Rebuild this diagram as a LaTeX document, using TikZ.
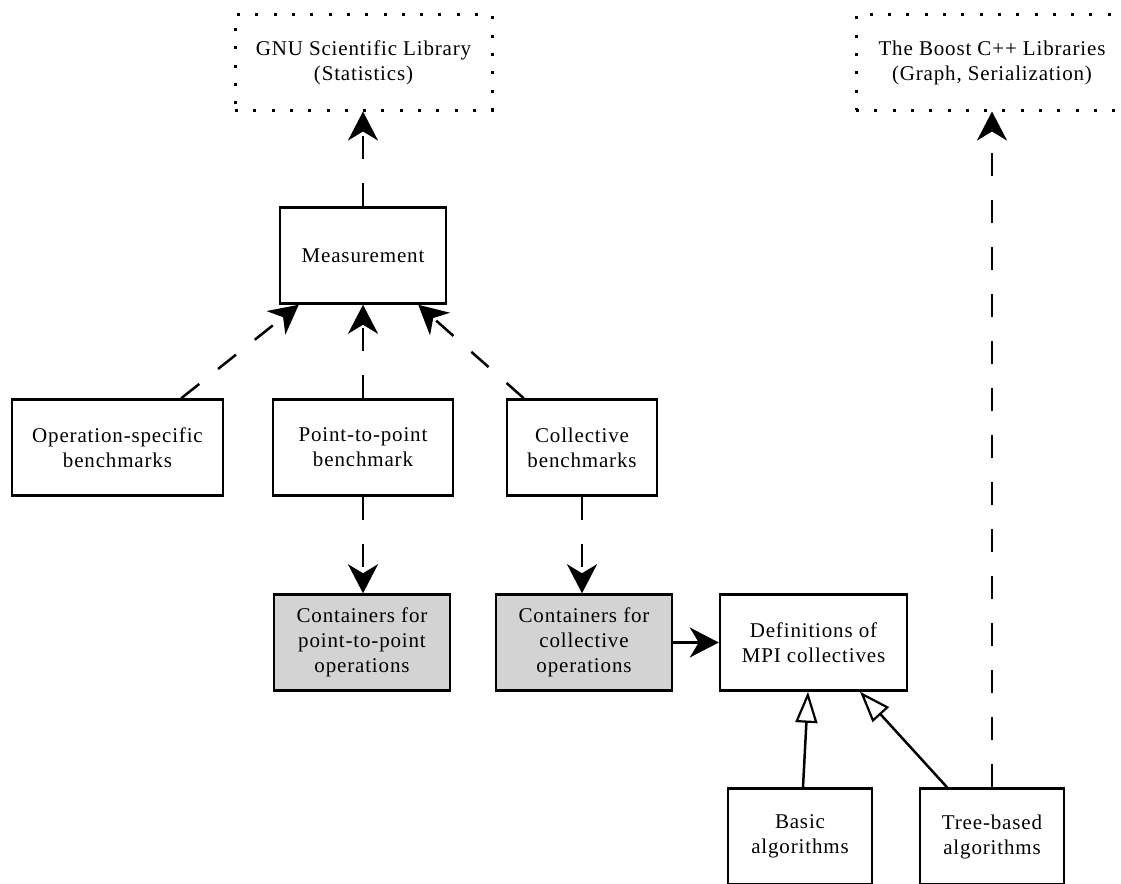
\documentclass[tikz,border=0pt]{standalone}
\usepackage{fontspec}
\setmainfont{Liberation Serif}[LetterSpace=4]
\usetikzlibrary{arrows.meta}
\definecolor{boxgray}{RGB}{211,211,211}

\begin{document}
\begin{tikzpicture}[x=1pt,y=-1pt,
  box/.style={draw, line width=2.5pt, rectangle, minimum height=96pt,
    inner sep=0pt, align=center, font=\fontsize{21}{25}\selectfont},
  libbox/.style={box, line width=3pt, minimum height=95pt,
    dash pattern=on 3pt off 15.3pt},
  container/.style={box, fill=boxgray},
  uses/.style={line width=2.5pt, dash pattern=on 23pt off 24pt,
    -{Stealth[length=29pt,width=30pt,inset=9pt]}},
  assoc/.style={line width=2.5pt,
    -{Stealth[length=29pt,width=30pt,inset=9pt]}},
  inherit/.style={line width=2.5pt,
    -{Triangle[open,length=31pt,width=22pt,line width=2.2pt,fill=white]}}]

\useasboundingbox (0,0) rectangle (1121,883);

% external libraries
\node[libbox, minimum width=257pt] (gnu) at (363.5,62.5) {GNU Scientific Library\\(Statistics)};
\node[libbox, minimum width=272pt] (boost) at (992,62.5) {The Boost C++ Libraries\\(Graph, Serialization)};

% benchmark components
\node[box, minimum width=166pt] (meas) at (363,255.5) {Measurement};
\node[box, minimum width=211pt] (ops) at (117.5,447.5) {Operation-specific\\benchmarks};
\node[box, minimum width=180pt] (p2p) at (363,447.5) {Point-to-point\\benchmark};
\node[box, minimum width=150pt] (coll) at (582,447.5) {Collective\\benchmarks};

% containers and collective definitions
\node[container, minimum width=176pt] (cp2p) at (362,642.5) {Containers for\\point-to-point\\operations};
\node[container, minimum width=176pt] (ccoll) at (584,642.5) {Containers for\\collective\\operations};
\node[box, minimum width=187pt] (defs) at (813.5,642.5) {Definitions of\\MPI collectives};

% algorithm implementations
\node[box, minimum width=144pt] (basic) at (800,836.5) {Basic\\algorithms};
\node[box, minimum width=144pt] (tree) at (992,836.5) {Tree-based\\algorithms};

% dependencies
\draw[uses] (meas.north) -- (meas.north |- gnu.south);
\draw[uses] ([xshift=-43pt]ops.north east) -- ([xshift=20pt]meas.south west);
\draw[uses] (p2p.north) -- (meas.south);
\draw[uses] ([xshift=18pt]coll.north west) -- ([xshift=-29pt]meas.south east);
\draw[uses] (p2p.south) -- (p2p.south |- cp2p.north);
\draw[uses] (coll.south) -- (coll.south |- ccoll.north);
\draw[uses] (tree.north) -- (tree.north |- boost.south);

% association and inheritance
\draw[assoc] (ccoll.east) -- (defs.west);
\draw[inherit] ([xshift=3pt]basic.north) -- ([xshift=-5.5pt]defs.south);
\draw[inherit] ([xshift=-45pt]tree.north) -- ([xshift=46.5pt]defs.south);

\end{tikzpicture}
\end{document}
